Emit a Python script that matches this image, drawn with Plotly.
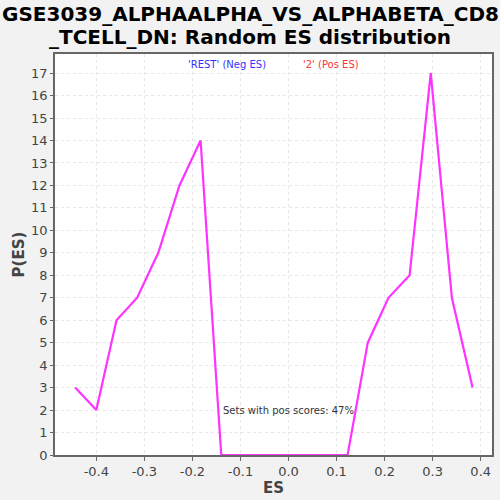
import plotly.graph_objects as go

es = [-0.444, -0.400, -0.358, -0.315, -0.271, -0.227, -0.183, -0.140, -0.096, -0.052,
      -0.009, 0.035, 0.079, 0.123, 0.165, 0.208, 0.252, 0.296, 0.340, 0.383]
p_es = [3, 2, 6, 7, 9, 12, 14, 0, 0, 0, 0, 0, 0, 0, 5, 7, 8, 17, 7, 3]

x_ticks = [-0.4, -0.3, -0.2, -0.1, 0.0, 0.1, 0.2, 0.3, 0.4]
x_labels = ["-0.4", "-0.3", "-0.2", "-0.1", "0.0", "0.1", "0.2", "0.3", "0.4"]
y_ticks = list(range(0, 18))

title_lines = ["GSE3039_ALPHAALPHA_VS_ALPHABETA_CD8", "_TCELL_DN: Random ES distribution"]
font = "DejaVu Sans"

fig = go.Figure()
fig.add_trace(go.Scatter(x=es, y=p_es, mode="lines",
                         line=dict(color="#ff33ff", width=2.2), showlegend=False))

# title as two annotations centred on the whole image (paper x is the plot area)
title_x = (250 - 55) / 437
fig.add_annotation(x=title_x, y=1.0, xref="paper", yref="paper", yshift=40,
                   xanchor="center", yanchor="middle",
                   text="<b>" + title_lines[0] + "</b>", showarrow=False,
                   font=dict(family=font, size=20, color="black"))
fig.add_annotation(x=title_x, y=1.0, xref="paper", yref="paper", yshift=17,
                   xanchor="center", yanchor="middle",
                   text="<b>" + title_lines[1] + "</b>", showarrow=False,
                   font=dict(family=font, size=20, color="black"))

fig.add_annotation(x=0.394, y=1.0, xref="paper", yref="paper", yshift=-10,
                   xanchor="center", yanchor="middle",
                   text="'REST' (Neg ES)", showarrow=False,
                   font=dict(family=font, size=10, color="#3333ff"))
fig.add_annotation(x=0.632, y=1.0, xref="paper", yref="paper", yshift=-10,
                   xanchor="center", yanchor="middle",
                   text="'2' (Pos ES)", showarrow=False,
                   font=dict(family=font, size=10, color="#ff3333"))
fig.add_annotation(x=0.0, y=2.0, xref="x", yref="y",
                   text="Sets with pos scores: 47%", showarrow=False,
                   font=dict(family=font, size=10, color="#333333"))

fig.update_layout(
    width=500, height=500,
    margin=dict(l=55, r=8, t=54, b=45),
    paper_bgcolor="#f2f2f2", plot_bgcolor="white",
    font=dict(family=font, color="#444444"),
)
fig.update_xaxes(range=[-0.486, 0.4235], tickvals=x_ticks, ticktext=x_labels,
                 automargin=False,
                 showgrid=True, gridcolor="#e6e6e6", griddash="3px,3px", gridwidth=1,
                 zeroline=False, showline=True, linecolor="#666666", linewidth=1.5, mirror=True,
                 ticks="outside", ticklen=4, tickcolor="#666666",
                 tickfont=dict(family=font, size=13, color="#444444"),
                 title=dict(text="<b>ES</b>", font=dict(family=font, size=15, color="#444444"),
                            standoff=0))
fig.update_yaxes(range=[0, 17.85], tickvals=y_ticks,
                 automargin=False,
                 showgrid=True, gridcolor="#e6e6e6", griddash="3px,3px", gridwidth=1,
                 zeroline=False, showline=True, linecolor="#666666", linewidth=1.5, mirror=True,
                 ticks="outside", ticklen=3, tickcolor="#666666",
                 tickfont=dict(family=font, size=13, color="#444444"),
                 title=dict(text="<b>P(ES)</b>", font=dict(family=font, size=15, color="#444444"),
                            standoff=3))

# drop the page's default body margin so the figure starts at the window corner
fig.write_html("out.html", config={"displayModeBar": False},
               post_script="document.body.style.margin='0';")
